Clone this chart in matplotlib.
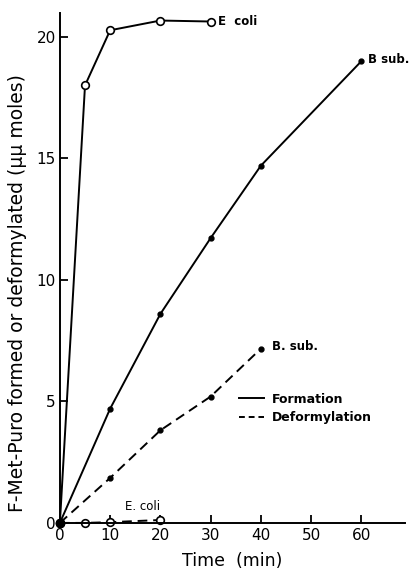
import matplotlib.pyplot as plt
from matplotlib.lines import Line2D

plt.rcParams['font.family'] = ['DejaVu Sans']

# formation
ecoli_t = [0, 5, 10, 20, 30]
ecoli_form = [0, 18.0, 20.27, 20.67, 20.63]
bsub_t = [0, 10, 20, 30, 40, 60]
bsub_form = [0, 4.7, 8.6, 11.72, 14.7, 19.0]

# deformylation
ecoli_def_t = [0, 5, 10, 20]
ecoli_def = [0, 0.0, 0.03, 0.12]
bsub_def_t = [0, 10, 20, 30, 40]
bsub_def = [0, 1.85, 3.81, 5.2, 7.17]

fig = plt.figure(figsize=(4.13, 5.69), dpi=100)
ax = fig.add_axes([0.145, 0.081, 0.836, 0.897])

k = dict(color='black', lw=1.4, clip_on=False)
ax.plot(ecoli_t, ecoli_form, '-o', ms=5.5, mfc='white', mec='black', mew=1.2, **k)
ax.plot(bsub_t, bsub_form, '-o', ms=3.5, mfc='black', **k)
ax.plot(ecoli_def_t, ecoli_def, '--o', ms=5.5, mfc='white', mec='black', mew=1.2,
        dashes=(5, 3), **k)
ax.plot(bsub_def_t, bsub_def, '--o', ms=3.5, mfc='black', dashes=(5, 3), **k)
ax.plot([0], [0], 'o', ms=6, color='black', clip_on=False)

lab = dict(fontsize=8.5, fontweight='bold', va='center')
ax.text(31.5, 20.65, 'E  coli', **lab)
ax.text(61.4, 19.05, 'B sub.', **lab)
ax.text(42.2, 7.27, 'B. sub.', **lab)
ax.text(13.0, 0.67, 'E. coli', fontsize=8.5, va='center')

h = [Line2D([], [], color='black', lw=1.4, ls='-'),
     Line2D([], [], color='black', lw=1.4, dashes=(3, 2))]
ax.legend(h, ['Formation', 'Deformylation'], frameon=False,
          prop=dict(size=9, weight='bold'),
          handlelength=2.0, handletextpad=0.6, labelspacing=0.45,
          loc='upper left', bbox_to_anchor=(0.505, 0.265), borderaxespad=0)

ax.set_xlim(0, 68.7)
ax.set_ylim(0, 21.0)
ax.set_xticks([0, 10, 20, 30, 40, 50, 60])
ax.set_yticks([0, 5, 10, 15, 20])
ax.tick_params(direction='in', length=6, width=1.3, labelsize=11, pad=3)
ax.tick_params(axis='x', pad=4)
for s in ['top', 'right']:
    ax.spines[s].set_visible(False)
for s in ['left', 'bottom']:
    ax.spines[s].set_linewidth(1.4)

ax.set_xlabel('Time  (min)', fontsize=12.5, labelpad=6)
fig.text(0.042, 0.485, 'F-Met-Puro formed or deformylated (\u03bc\u03bc moles)',
         fontsize=13.5, rotation=90, ha='center', va='center')

fig.savefig('out.png', dpi=100)
